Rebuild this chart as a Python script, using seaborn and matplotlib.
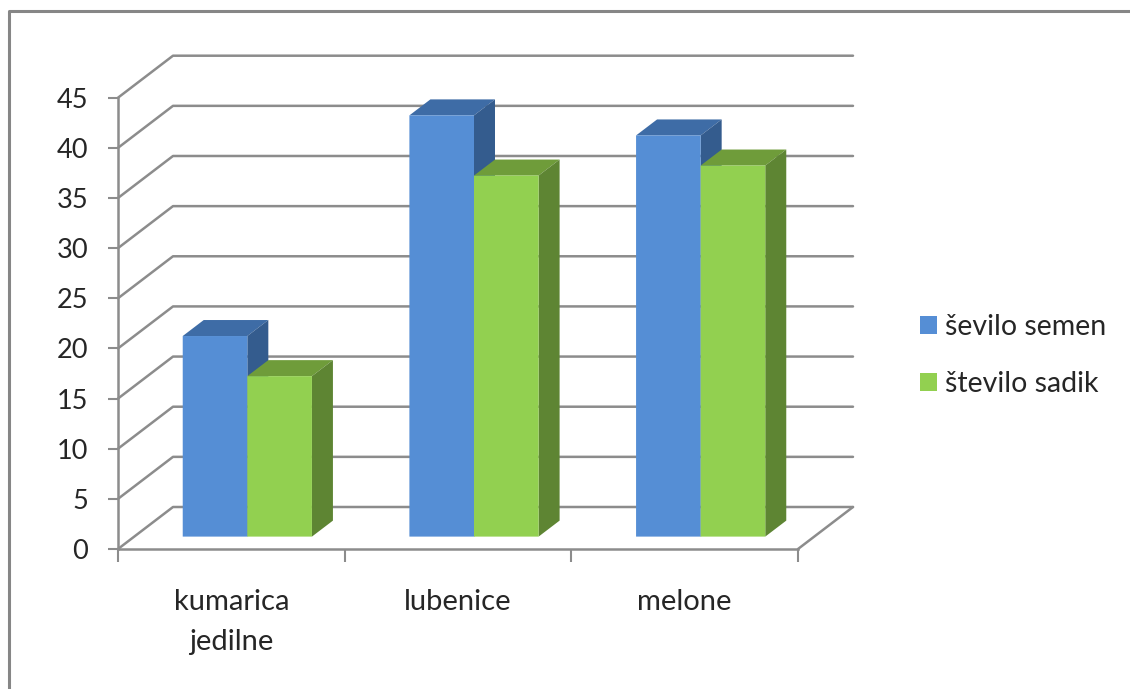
import matplotlib
matplotlib.use("Agg")
import matplotlib.pyplot as plt
from matplotlib.lines import Line2D
from matplotlib.patches import Polygon, Patch
import pandas as pd
import seaborn as sns

categories = ["kumarica\njedilne", "lubenice", "melone"]
seeds = [20, 42, 40]
seedlings = [16, 36, 37]
series_names = ["ševilo semen", "število sadik"]
y_ticks = [0, 5, 10, 15, 20, 25, 30, 35, 40, 45]

front_colors = ["#558ED5", "#92D050"]
top_colors = ["#3E6CA6", "#6F9C3A"]
side_colors = ["#345C8E", "#5E8533"]
line_color = "#8C8C8C"
text_color = "#262626"

sns.set_theme(style="white")
plt.rcParams["font.family"] = ["Lato", "DejaVu Sans"]

W, H = 1130, 689
fig = plt.figure(figsize=(W / 100, H / 100), dpi=100, facecolor="white")
ax = fig.add_axes([118 / W, (H - 549) / H, 680 / W, 451.3 / H])

table = pd.DataFrame({
    "kategorija": categories * 2,
    "vrednost": seeds + seedlings,
    "serija": [series_names[0]] * 3 + [series_names[1]] * 3,
})
sns.barplot(data=table, x="kategorija", y="vrednost", hue="serija",
            palette=front_colors, saturation=1, width=0.57, gap=0,
            linewidth=0, ax=ax, legend=False)
ax.set_xlim(-0.5, 2.5)
ax.set_ylim(0, 45)

# Oblique projection offsets, in data units
px_x = 680 / 3
px_y = 451.3 / 45
wall_dx, wall_dy = 55 / px_x, 42 / px_y
floor_dx, floor_dy = 16 / px_x, 12.4 / px_y
bar_dx, bar_dy = 21 / px_x, 16 / px_y

# Back wall gridlines and floor outline
x0, x1 = -0.5, 2.5
for v in y_ticks:
    ax.add_line(Line2D([x0, x0 + wall_dx, x1 + wall_dx],
                       [v, v + wall_dy, v + wall_dy],
                       color=line_color, lw=1.8, clip_on=False, zorder=1))
ax.add_line(Line2D([x1 + wall_dx, x1], [wall_dy, 0],
                   color=line_color, lw=1.8, clip_on=False, zorder=1))

# Extrude each bar: shift the front face onto the floor, add top and side faces
for s, container in enumerate(ax.containers):
    z = 3 + 2 * s
    for patch in container:
        left = patch.get_x() + floor_dx
        width = patch.get_width()
        height = patch.get_height()
        base = floor_dy
        patch.set_x(left)
        patch.set_y(base)
        patch.set_zorder(z + 1)
        patch.set_clip_on(False)
        patch.set_snap(False)
        top = base + height
        right = left + width
        ax.add_patch(Polygon([(left, top), (right, top),
                              (right + bar_dx, top + bar_dy),
                              (left + bar_dx, top + bar_dy)],
                             closed=True, facecolor=top_colors[s], lw=0,
                             zorder=z, clip_on=False, snap=False))
        ax.add_patch(Polygon([(right, base), (right, top),
                              (right + bar_dx, top + bar_dy),
                              (right + bar_dx, base + bar_dy)],
                             closed=True, facecolor=side_colors[s], lw=0,
                             zorder=z, clip_on=False, snap=False))

# Axes
for name in ("top", "right"):
    ax.spines[name].set_visible(False)
for name in ("left", "bottom"):
    ax.spines[name].set_color(line_color)
    ax.spines[name].set_linewidth(1.8)
    ax.spines[name].set_zorder(2)

ax.set_yticks(y_ticks)
ax.set_yticklabels([str(v) for v in y_ticks], fontsize=19.5, color=text_color)
ax.set_xticks([-0.5, 0.5, 1.5, 2.5])
ax.set_xticklabels([])
ax.set_xticks([0, 1, 2], minor=True)
ax.set_xticklabels(categories, minor=True, fontsize=21, color=text_color,
                   linespacing=1.7)
ax.tick_params(axis="y", which="major", length=7.5, width=1.5, color=line_color,
               left=True, pad=14)
ax.tick_params(axis="x", which="major", length=9, width=1.5, color=line_color,
               bottom=True)
ax.tick_params(axis="x", which="minor", length=0, pad=28.5)
ax.set_xlabel("")
ax.set_ylabel("")

# Legend at the right of the plot
handles = [Patch(facecolor=c, edgecolor="none") for c in front_colors]
fig.legend(handles, series_names, loc="upper left",
           bbox_to_anchor=(920 / W, 1 - 314 / H), frameon=False, fontsize=20.5,
           labelcolor=text_color, handlelength=0.61, handleheight=0.61,
           handletextpad=0.28, labelspacing=1.1, borderpad=0, borderaxespad=0)

# Chart frame, running off the top-right and bottom edges of the canvas
fig.add_artist(Line2D([1, 9 / W, 9 / W], [1 - 11 / H, 1 - 11 / H, 0],
                      transform=fig.transFigure, color="#868686", lw=2.2))

fig.savefig("out.png", dpi=100, facecolor="white")
